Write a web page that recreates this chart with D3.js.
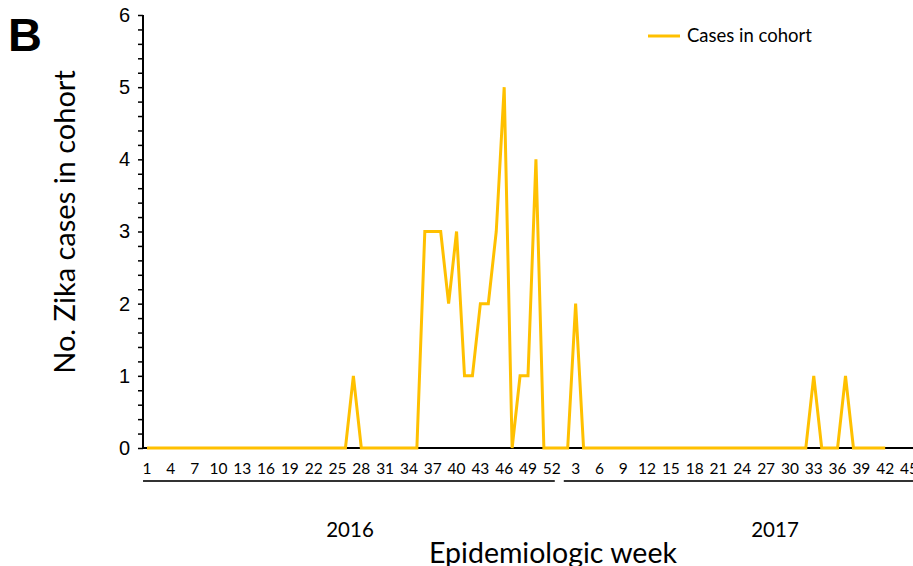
<!DOCTYPE html>
<html>
<head>
<meta charset="utf-8">
<script src="https://cdn.jsdelivr.net/npm/d3@7"></script>
<style>
  body { margin: 0; background: #fff; }
  svg { display: block; font-family: Lato, "Open Sans", sans-serif; }
</style>
</head>
<body>
<script>
// 年ごとの週番号
const weeks2016 = [1,2,3,4,5,6,7,8,9,10,11,12,13,14,15,16,17,18,19,20,21,22,23,24,25,26,
  27,28,29,30,31,32,33,34,35,36,37,38,39,40,41,42,43,44,45,46,47,48,49,50,51,52];
const weeks2017 = [1,2,3,4,5,6,7,8,9,10,11,12,13,14,15,16,17,18,19,20,21,22,23,24,25,26,
  27,28,29,30,31,32,33,34,35,36,37,38,39,40,41,42,43,44,45];

// 症例数（コホート内）
const cases2016 = [0,0,0,0,0,0,0,0,0,0,0,0,0,0,0,0,0,0,0,0,0,0,0,0,0,0,
  1,0,0,0,0,0,0,0,0,3,3,3,2,3,1,1,2,2,3,5,0,1,1,4,0,0];
const cases2017 = [0,0,2,0,0,0,0,0,0,0,0,0,0,0,0,0,0,0,0,0,0,0,0,0,0,0,
  0,0,0,0,0,0,1,0,0,0,1,0,0,0,0,0];

// 目盛りラベル
const tickWeeks2016 = [1,4,7,10,13,16,19,22,25,28,31,34,37,40,43,46,49,52];
const tickWeeks2017 = [3,6,9,12,15,18,21,24,27,30,33,36,39,42,45];
const yearLabels = ["2016", "2017"];
const yTicks = [0,1,2,3,4,5,6];

const width = 913, height = 566;
const svg = d3.select("body").append("svg").attr("width", width).attr("height", height);

// 通し番号に変換
const n2016 = weeks2016.length;
const idx = (year, w) => year === 2016 ? w - 1 : n2016 + w - 1;
const totalLen = n2016 + weeks2017.length - 1;

const x = d3.scaleLinear().domain([0, totalLen]).range([147, 909]);
const y = d3.scaleLinear().domain([0, 6]).range([448, 15]);

const series = cases2016.map((v, i) => ({ i: idx(2016, weeks2016[i]), v: v }))
  .concat(cases2017.map((v, i) => ({ i: idx(2017, weeks2017[i]), v: v })));

// x軸（基線）
svg.append("line")
  .attr("x1", 143).attr("x2", width)
  .attr("y1", y(0)).attr("y2", y(0))
  .attr("stroke", "#000").attr("stroke-width", 2);

// y軸（0.2刻みの小目盛り）
const yAxis = d3.axisLeft(y)
  .tickValues(d3.range(0, 6.01, 0.2))
  .tickSize(5)
  .tickPadding(8)
  .tickFormat(d => Math.abs(d - Math.round(d)) < 1e-6 && yTicks.includes(Math.round(d)) ? Math.round(d) : "");
const gy = svg.append("g").attr("transform", "translate(143,0)").call(yAxis);
gy.select(".domain").attr("stroke", "#000").attr("stroke-width", 2).attr("d", "M0," + y(6) + "V" + y(0));
gy.selectAll(".tick line").attr("stroke", "#000").attr("stroke-width", 1.5);
gy.selectAll(".tick text").attr("font-size", 20).attr("fill", "#000");

// x目盛りラベル
const xt = tickWeeks2016.map(w => ({ i: idx(2016, w), t: w }))
  .concat(tickWeeks2017.map(w => ({ i: idx(2017, w), t: w })));
svg.append("g").selectAll("text")
  .data(xt).enter().append("text")
  .attr("x", d => x(d.i)).attr("y", 474)
  .attr("text-anchor", "middle").attr("font-size", 15.5)
  .text(d => d.t);

// 年の区切り線
const spans = [
  [x(-0.5), x(n2016 - 0.5) - 1],
  [x(n2016 - 0.5) + 8, width]
];
svg.append("g").selectAll("line")
  .data(spans).enter().append("line")
  .attr("x1", d => d[0]).attr("x2", d => d[1])
  .attr("y1", 481).attr("y2", 481)
  .attr("stroke", "#333").attr("stroke-width", 2);

svg.append("g").selectAll("text")
  .data(yearLabels).enter().append("text")
  .attr("x", (d, i) => i === 0 ? 350 : 775)
  .attr("y", 537)
  .attr("text-anchor", "middle").attr("font-size", 20.5)
  .text(d => d);

// 折れ線
const line = d3.line().x(d => x(d.i)).y(d => y(d.v));
svg.append("path")
  .datum(series)
  .attr("fill", "none")
  .attr("stroke", "#FFC000")
  .attr("stroke-width", 3)
  .attr("stroke-linejoin", "miter")
  .attr("d", line);

// 軸タイトル
svg.append("text")
  .attr("x", 553).attr("y", 563)
  .attr("text-anchor", "middle").attr("font-size", 28.5)
  .text("Epidemiologic week");

svg.append("text")
  .attr("transform", "translate(75,222) rotate(-90)")
  .attr("text-anchor", "middle").attr("font-size", 29)
  .text("No. Zika cases in cohort");

// パネル記号
svg.append("text")
  .attr("x", 8).attr("y", 51)
  .attr("font-size", 47).attr("font-weight", "bold")
  .attr("font-family", "'Liberation Sans', Arial, sans-serif")
  .text("B");

// 凡例
svg.append("line")
  .attr("x1", 648).attr("x2", 680).attr("y1", 36).attr("y2", 36)
  .attr("stroke", "#FFC000").attr("stroke-width", 3);
svg.append("text")
  .attr("x", 687).attr("y", 42).attr("font-size", 18.5)
  .text("Cases in cohort");
</script>
</body>
</html>
